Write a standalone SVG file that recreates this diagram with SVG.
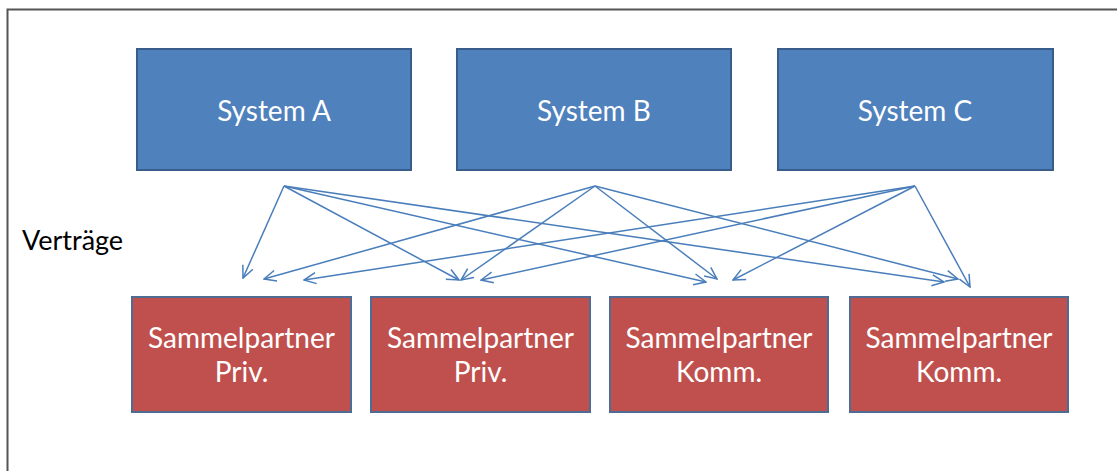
<svg xmlns="http://www.w3.org/2000/svg" width="1117" height="471" viewBox="0 0 1117 471">
  <defs>
    <marker id="arr" viewBox="0 0 14 14" refX="13" refY="7" markerWidth="14" markerHeight="14" markerUnits="userSpaceOnUse" orient="auto">
      <path d="M1,1.5 L13,7 L1,12.5" fill="none" stroke="#4A7EBB" stroke-width="1.5"/>
    </marker>
  </defs>
  <style>
    .sys { fill: #4F81BD; stroke: #385D8A; stroke-width: 2; }
    .sp { fill: #C0504D; stroke: #4F6C94; stroke-width: 2; }
    .lbl { font-family: Lato, "Open Sans", sans-serif; font-size: 28px; fill: #FFFFFF; text-anchor: middle; }
    .side { font-family: Lato, "Open Sans", sans-serif; font-size: 27px; fill: #000000; }
    .con line { stroke: #4A7EBB; stroke-width: 1.5; marker-end: url(#arr); }
  </style>
  <rect x="0" y="0" width="1117" height="471" fill="#FFFFFF"/>
  <path d="M7.5,471 L7.5,9.5 L1117,9.5" fill="none" stroke="#555555" stroke-width="2"/>

  <g id="sysA"><rect class="sys" x="137" y="49" width="274" height="121"/><text class="lbl" x="274" y="121">System A</text></g>
  <g id="sysB"><rect class="sys" x="457" y="49" width="274" height="121"/><text class="lbl" x="594" y="121">System B</text></g>
  <g id="sysC"><rect class="sys" x="778" y="49" width="275" height="121"/><text class="lbl" x="915" y="121">System C</text></g>

  <g id="sp1"><rect class="sp" x="132" y="297" width="219" height="115"/><text class="lbl" x="241.5" y="348">Sammelpartner</text><text class="lbl" x="241.5" y="382">Priv.</text></g>
  <g id="sp2"><rect class="sp" x="371" y="297" width="219" height="115"/><text class="lbl" x="480.5" y="348">Sammelpartner</text><text class="lbl" x="480.5" y="382">Priv.</text></g>
  <g id="sp3"><rect class="sp" x="610" y="297" width="218" height="115"/><text class="lbl" x="719" y="348">Sammelpartner</text><text class="lbl" x="719" y="382">Komm.</text></g>
  <g id="sp4"><rect class="sp" x="850" y="297" width="218" height="115"/><text class="lbl" x="959" y="348">Sammelpartner</text><text class="lbl" x="959" y="382">Komm.</text></g>

  <g id="label"><text class="side" x="22" y="250">Verträge</text></g>

  <g class="con" id="connectors">
    <line x1="284" y1="186" x2="243" y2="278"/>
    <line x1="284" y1="186" x2="459" y2="280"/>
    <line x1="284" y1="186" x2="706" y2="282"/>
    <line x1="284" y1="186" x2="944" y2="282"/>
    <line x1="595" y1="186" x2="264" y2="279"/>
    <line x1="595" y1="186" x2="461" y2="280"/>
    <line x1="595" y1="186" x2="717" y2="279"/>
    <line x1="595" y1="186" x2="958" y2="279"/>
    <line x1="915" y1="186" x2="304" y2="280"/>
    <line x1="915" y1="186" x2="481" y2="280"/>
    <line x1="915" y1="186" x2="733" y2="280"/>
    <line x1="915" y1="186" x2="970" y2="287"/>
  </g>
</svg>
